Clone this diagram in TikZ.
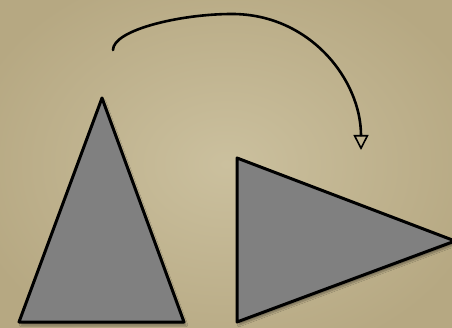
\documentclass[tikz,border=0pt]{standalone}
\usetikzlibrary{arrows.meta,shadows.blur}
\definecolor{paper}{RGB}{203,192,158}
\definecolor{paperdark}{RGB}{182,168,130}
\definecolor{shapegray}{RGB}{128,128,128}
\tikzset{
  tri/.style={fill=shapegray,draw=black,line width=3pt,line join=round,
    blur shadow={shadow xshift=2pt,shadow yshift=-3pt,shadow blur steps=6,shadow opacity=35}},
  move/.style={line width=2.6pt,line cap=round,-{Triangle[open,length=15pt,width=15pt,line width=1.6pt]}}
}
\begin{document}
\begin{tikzpicture}[x=1pt,y=-1pt,line cap=round,line join=round]
  \useasboundingbox (0,0) rectangle (452,328);
  % paper
  \clip (0,0) rectangle (452,328);
  \shade[inner color=paper,outer color=paperdark] (-40,-40) rectangle (492,368);
  % left triangle
  \draw[tri] (102,98) -- (184,322) -- (19,322) -- cycle;
  % right triangle
  \draw[tri] (237,158) -- (455,241) -- (237,322) -- cycle;
  % arrow
  \coordinate (from) at (113,50);
  \coordinate (top) at (232,14);
  \coordinate (to) at (361,150);
  \draw[move] (from) .. controls (113,30) and (180,14) .. (top)
    .. controls (310,14) and (361,80) .. (to);
\end{tikzpicture}
\end{document}
